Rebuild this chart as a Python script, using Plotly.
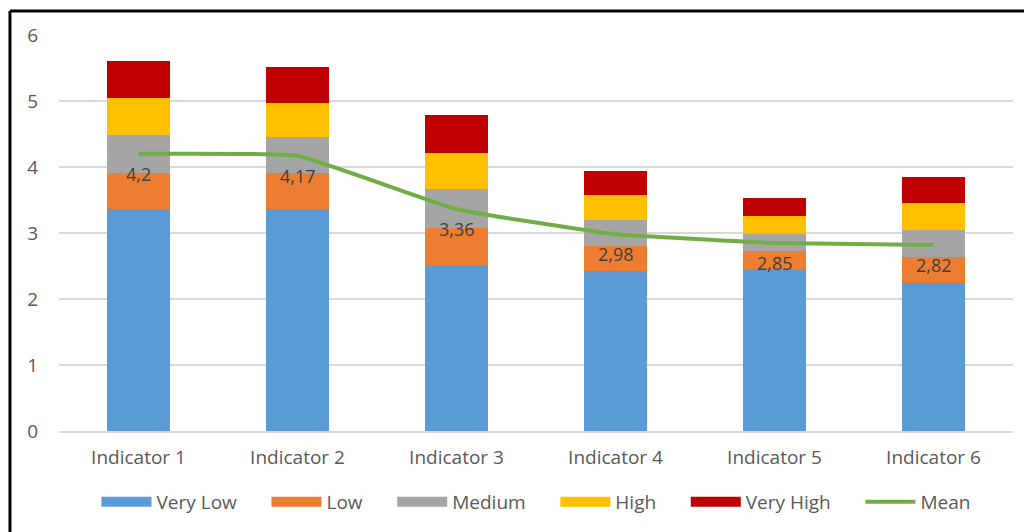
import plotly.graph_objects as go

categories = ["Indicator 1", "Indicator 2", "Indicator 3", "Indicator 4", "Indicator 5", "Indicator 6"]
very_low = [3.37, 3.37, 2.52, 2.43, 2.46, 2.25]
low = [0.54, 0.54, 0.56, 0.38, 0.27, 0.39]
medium = [0.58, 0.55, 0.58, 0.38, 0.26, 0.41]
high = [0.56, 0.51, 0.55, 0.38, 0.27, 0.41]
very_high = [0.55, 0.54, 0.58, 0.37, 0.27, 0.39]
mean = [4.2, 4.17, 3.36, 2.98, 2.85, 2.82]
mean_labels = ["4,2", "4,17", "3,36", "2,98", "2,85", "2,82"]

series = [
    ("Very Low", very_low, "#5B9BD5"),
    ("Low", low, "#ED7D31"),
    ("Medium", medium, "#A5A5A5"),
    ("High", high, "#FFC000"),
    ("Very High", very_high, "#C00000"),
]

font_family = "Open Sans, Liberation Sans, sans-serif"
pad = "\u00a0" * 5
fig = go.Figure()
for name, vals, color in series:
    fig.add_trace(go.Bar(x=categories, y=vals, name=name, marker_color=color,
                         marker_line_width=0, showlegend=False, legendgroup=name))
    # legend entry drawn as a wide rectangle, like the original
    fig.add_trace(go.Scatter(x=[None], y=[None], mode="lines", name=name + pad, legendgroup=name,
                             line=dict(color=color, width=10), showlegend=True))
fig.add_trace(go.Scatter(x=categories, y=mean, name="Mean", mode="lines",
                         line=dict(color="#70AD47", width=4, shape="spline", smoothing=0.3)))

annotations = [
    dict(x=c, y=v, text=t, showarrow=False, yshift=-20, xref="x", yref="y",
         font=dict(color="#404040", size=18, family=font_family))
    for c, v, t in zip(categories, mean, mean_labels)
]

fig.update_layout(
    barmode="stack",
    bargap=0.6,
    width=1024, height=524,
    margin=dict(l=51, r=19, t=27, b=100),
    plot_bgcolor="white", paper_bgcolor="white",
    font=dict(family=font_family, color="#595959", size=19),
    showlegend=True,
    legend=dict(orientation="h", x=0.5, xanchor="center", y=-0.176, yanchor="middle",
                font=dict(size=19, color="#595959"), traceorder="normal", itemwidth=50),
    annotations=annotations,
    xaxis=dict(showgrid=False, showline=True, linecolor="#D9D9D9", linewidth=2,
               ticks="", ticklabelstandoff=8, tickfont=dict(size=19, color="#595959")),
    yaxis=dict(range=[0, 6], dtick=1, showgrid=True, gridcolor="#D9D9D9", gridwidth=2,
               zeroline=False, showline=False, ticks="", ticklabelstandoff=20,
               tickfont=dict(size=19, color="#595959")),
    shapes=[
        dict(type="line", xref="paper", yref="paper", x0=-0.0514, x1=-0.0514, y0=1.0605, y1=-0.27,
             line=dict(color="black", width=3)),
        dict(type="line", xref="paper", yref="paper", x0=-0.0514, x1=1.03, y0=1.0605, y1=1.0605,
             line=dict(color="black", width=3)),
    ],
)

fig.write_html("out.html")
